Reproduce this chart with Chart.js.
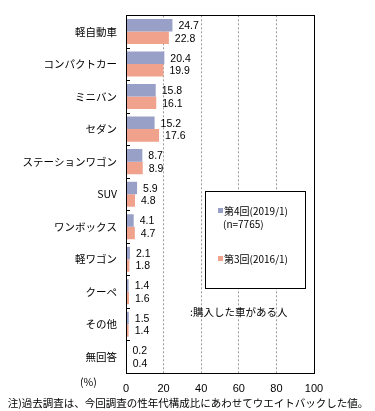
<!DOCTYPE html>
<html>
<head>
<meta charset="utf-8">
<script src="https://cdn.jsdelivr.net/npm/chart.js@4"></script>
<style>
  body { margin: 0; background: #fff; }
  canvas { display: block; }
</style>
</head>
<body>
<canvas id="myChart" width="375" height="411"></canvas>
<script>
const categories = [
    "軽自動車", "コンパクトカー", "ミニバン", "セダン", "ステーションワゴン",
    "SUV", "ワンボックス", "軽ワゴン", "クーペ", "その他", "無回答"
];
const wave4 = [24.7, 20.4, 15.8, 15.2, 8.7, 5.9, 4.1, 2.1, 1.4, 1.5, 0.2];
const wave3 = [22.8, 19.9, 16.1, 17.6, 8.9, 4.8, 4.7, 1.8, 1.6, 1.4, 0.4];
const xTicks = [0, 20, 40, 60, 80, 100];

const seriesNames = ["第4回(2019/1)", "第3回(2016/1)"];
const colors = ["#99a0c8", "#f0a28c"];

const JP = '"Noto Sans CJK JP", sans-serif';
const NUM = '"Liberation Sans", sans-serif';

// value labels, box, inner ticks, legend and notes
const extrasPlugin = {
    id: 'extras',
    afterDatasetsDraw(chart) {
        const ctx = chart.ctx;
        const area = chart.chartArea;
        ctx.save();

        // value labels at bar ends
        ctx.fillStyle = '#000';
        ctx.font = '10.5px ' + NUM;
        ctx.textBaseline = 'middle';
        ctx.textAlign = 'left';
        chart.data.datasets.forEach((ds, di) => {
            chart.getDatasetMeta(di).data.forEach((bar, i) => {
                ctx.fillText(ds.data[i].toFixed(1), bar.x + 6, bar.y + 1);
            });
        });

        // frame
        ctx.strokeStyle = '#000';
        ctx.lineWidth = 1;
        ctx.strokeRect(Math.round(area.left) + 0.5, Math.round(area.top) + 0.5,
            Math.round(area.right - area.left), Math.round(area.bottom - area.top));

        // inner ticks between categories
        const step = (area.bottom - area.top) / categories.length;
        ctx.beginPath();
        for (let i = 1; i < categories.length; i++) {
            const y = Math.round(area.top + step * i) + 0.5;
            ctx.moveTo(area.left, y);
            ctx.lineTo(area.left + 4, y);
        }
        ctx.stroke();

        // legend box
        const lx = 205, ly = 191, lw = 100, lh = 97;
        ctx.fillStyle = '#fff';
        ctx.fillRect(lx, ly, lw, lh);
        ctx.strokeRect(lx + 0.5, ly + 0.5, lw, lh);
        ctx.font = '10px ' + JP;
        ctx.textBaseline = 'middle';
        ctx.fillStyle = colors[0];
        ctx.fillRect(218, 208, 5, 5);
        ctx.fillStyle = '#000';
        ctx.fillText(seriesNames[0], 224, 211);
        ctx.fillText("(n=7765)", 223, 224);
        ctx.fillStyle = colors[1];
        ctx.fillRect(218, 256, 5, 5);
        ctx.fillStyle = '#000';
        ctx.fillText(seriesNames[1], 224, 259);

        // notes
        ctx.font = '10.5px ' + JP;
        ctx.fillText(":購入した車がある人", 190, 312);
        ctx.fillText("(%)", 80, 382);
        ctx.textAlign = 'center';
        ctx.fillText("注)過去調査は、今回調査の性年代構成比にあわせてウエイトバックした値。", 188, 403);
        ctx.restore();
    }
};

new Chart(document.getElementById('myChart'), {
    type: 'bar',
    plugins: [extrasPlugin],
    data: {
        labels: categories,
        datasets: [{
            label: seriesNames[0],
            data: wave4,
            backgroundColor: colors[0],
            categoryPercentage: 0.77,
            barPercentage: 1.0
        }, {
            label: seriesNames[1],
            data: wave3,
            backgroundColor: colors[1],
            categoryPercentage: 0.77,
            barPercentage: 1.0
        }]
    },
    options: {
        indexAxis: 'y',
        responsive: false,
        devicePixelRatio: 1,
        animation: false,
        layout: {
            padding: { left: 0, top: 15, right: 61, bottom: 0 }
        },
        plugins: {
            legend: { display: false },
            tooltip: { enabled: false }
        },
        scales: {
            x: {
                type: 'linear',
                position: 'bottom',
                min: 0,
                max: 100,
                afterBuildTicks: scale => {
                    scale.ticks = xTicks.map(v => ({ value: v }));
                },
                afterFit: scale => { scale.height = 38; },
                ticks: {
                    color: '#000',
                    font: { family: NUM, size: 11 },
                    padding: 9
                },
                border: { display: false, dash: [2, 2] },
                grid: {
                    drawTicks: false,
                    color: c => (c.tick && (c.tick.value === 0 || c.tick.value === 100)) ? 'rgba(0,0,0,0)' : '#9a9a9a'
                }
            },
            y: {
                type: 'category',
                afterFit: scale => { scale.width = 126; },
                ticks: {
                    color: '#000',
                    font: { family: JP, size: 10.5 },
                    padding: 9
                },
                border: { display: false },
                grid: { display: false, drawTicks: false }
            }
        }
    }
});
</script>
</body>
</html>
